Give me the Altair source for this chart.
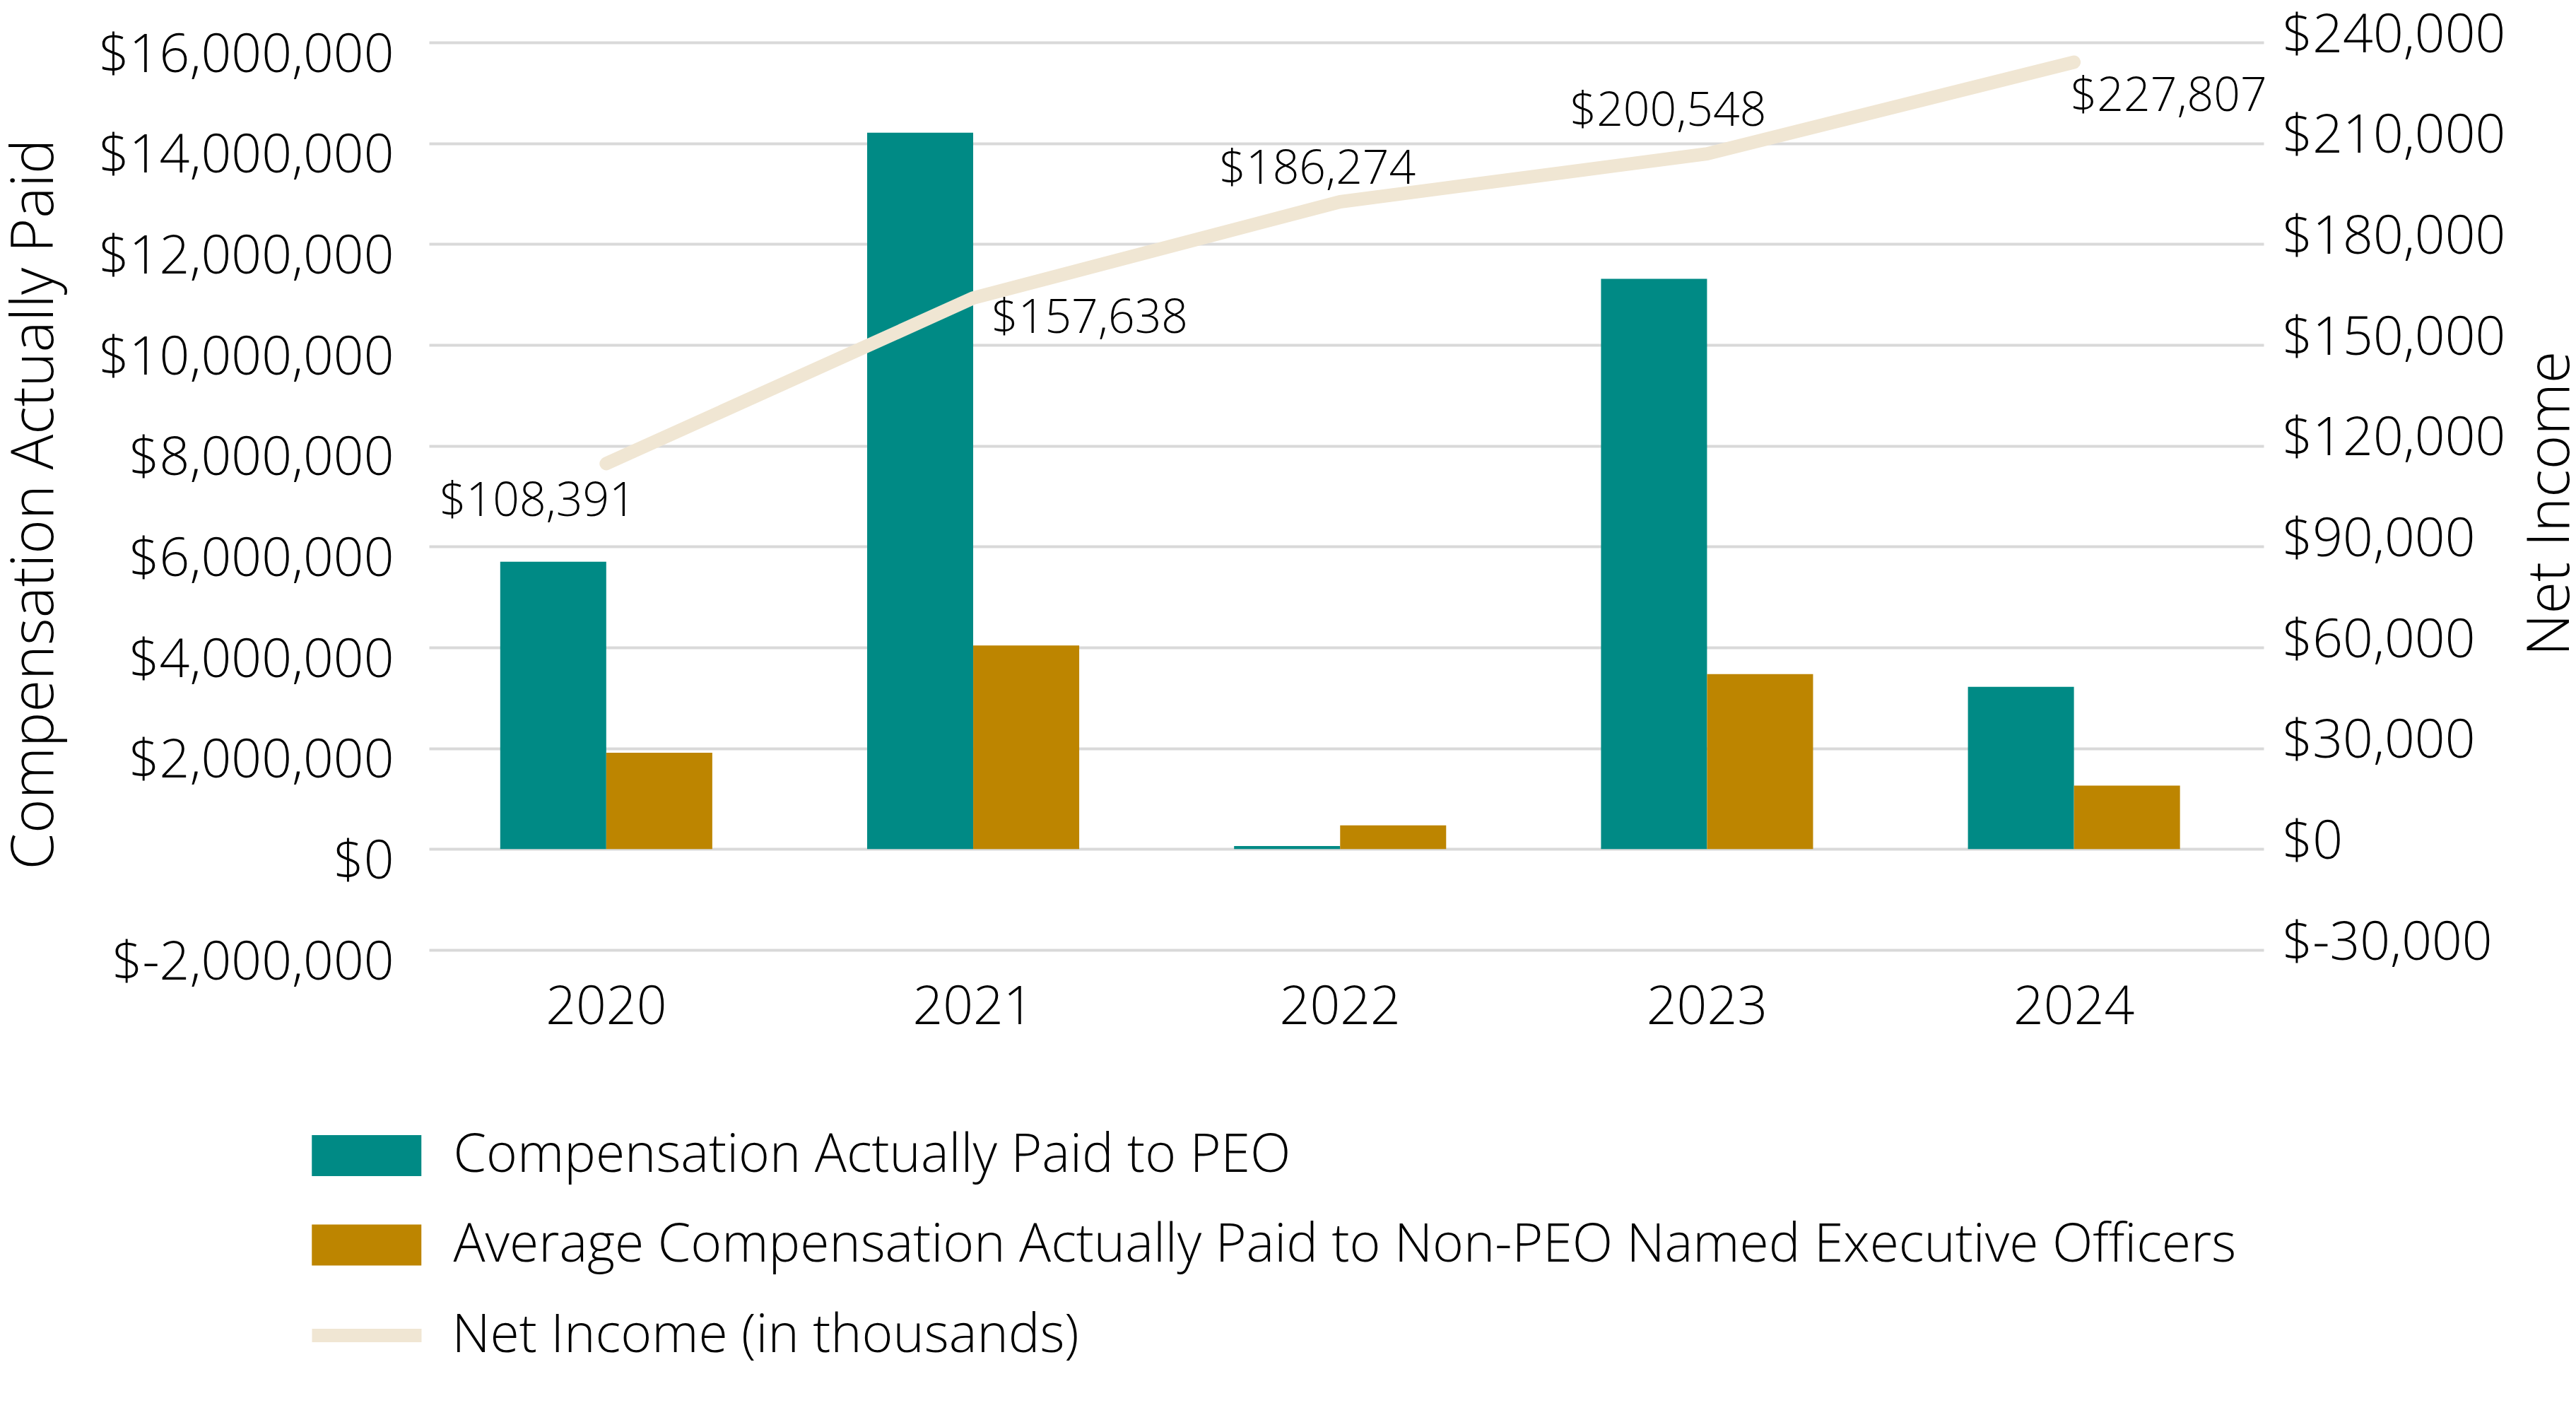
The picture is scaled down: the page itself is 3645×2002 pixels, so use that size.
import altair as alt
import pandas as pd

years = ["2020", "2021", "2022", "2023", "2024"]
peo = [5700000, 14210000, 60000, 11310000, 3220000]
non_peo = [1910000, 4040000, 470000, 3470000, 1260000]
net_income = [108391, 157638, 186274, 200548, 227807]

s_peo = "Compensation Actually Paid to PEO"
s_non = "Average Compensation Actually Paid to Non-PEO Named Executive Officers"
s_net = "Net Income (in thousands)"

TEAL = "#008A85"
GOLD = "#BD8500"
BEIGE = "#F0E6D3"
FONT = "Open Sans"
FW = 300

bars_df = pd.DataFrame(
    [{"year": y, "series": s_peo, "value": v} for y, v in zip(years, peo)]
    + [{"year": y, "series": s_non, "value": v} for y, v in zip(years, non_peo)]
)
line_df = pd.DataFrame({"year": years, "net": net_income, "label": [s_net] * len(years)})

W, H = 2596, 1284
LINE_SHIFT = -30

money_expr = "datum.value < 0 ? '$-' + format(-datum.value, ',') : '$' + format(datum.value, ',')"

x_enc = alt.X(
    "year:N",
    sort=years,
    scale=alt.Scale(paddingInner=0.422, paddingOuter=0.211, align=0.46),
    axis=alt.Axis(
        title=None, labelAngle=0, labelFontSize=75, labelPadding=45,
        labelBaseline="top", domain=False, ticks=False, labelColor="#000000",
        labelFont=FONT, labelFontWeight=FW,
    ),
)

bars = alt.Chart(bars_df).mark_bar(size=150).encode(
    x=x_enc,
    xOffset=alt.XOffset("series:N", sort=[s_peo, s_non]),
    y=alt.Y(
        "value:Q",
        scale=alt.Scale(domain=[-2000000, 16000000], nice=False, zero=False),
        axis=alt.Axis(
            orient="left",
            values=list(range(-2000000, 16000001, 2000000)),
            labelExpr=money_expr,
            labelFontSize=75, labelPadding=50, labelOffset=18, labelColor="#000000",
            labelFont=FONT, labelFontWeight=FW, labelLimit=2000,
            grid=True, gridColor="#D9D9D9", gridWidth=4,
            domain=False, ticks=False,
            title="Compensation Actually Paid", titleFontSize=83, titleFontWeight=FW,
            titleFont=FONT, titleColor="#000000", titleLimit=3000,
            titleAngle=270, titleAlign="center", titleBaseline="alphabetic",
            titleX=-533, titleY=653,
        ),
    ),
    color=alt.Color(
        "series:N",
        scale=alt.Scale(domain=[s_peo, s_non], range=[TEAL, GOLD]),
        legend=alt.Legend(
            orient="none", legendX=-127.25, legendY=1536, title=None,
            direction="vertical",
            symbolType="M-2,-0.75H2V0.75H-2Z", symbolSize=6006,
            symbolStrokeWidth=0, symbolOpacity=1,
            labelFontSize=75, labelFont=FONT, labelFontWeight=FW, labelColor="#000000",
            labelOffset=83.75, rowPadding=49.5, padding=0, labelLimit=3000,
        ),
    ),
)

y_right = alt.Y(
    "net:Q",
    scale=alt.Scale(domain=[-30000, 240000], nice=False, zero=False),
    axis=alt.Axis(
        orient="right",
        values=list(range(-30000, 240001, 30000)),
        labelExpr=money_expr,
        labelFontSize=75, labelPadding=26, labelOffset=-10, labelColor="#000000",
        labelFont=FONT, labelFontWeight=FW, labelLimit=2000,
        grid=False, domain=False, ticks=False,
        title="Net Income", titleFontSize=83, titleFontWeight=FW,
        titleFont=FONT, titleColor="#000000", titleLimit=3000,
        titleAngle=270, titleAlign="center", titleBaseline="alphabetic",
        titleX=431, titleY=652,
    ),
)

line = alt.Chart(line_df).mark_line(
    strokeWidth=19, strokeCap="round", strokeJoin="round", yOffset=LINE_SHIFT
).encode(
    x=alt.X("year:N", sort=years),
    y=y_right,
    stroke=alt.Stroke(
        "label:N",
        scale=alt.Scale(domain=[s_net], range=[BEIGE]),
        legend=alt.Legend(
            orient="none", legendX=-136.5, legendY=1781, title=None,
            symbolType="M-2,0H2", symbolSize=6006, symbolStrokeWidth=19,
            labelFontSize=75, labelFont=FONT, labelFontWeight=FW, labelColor="#000000",
            labelOffset=72, padding=0, labelLimit=3000,
        ),
    ),
)

# label offsets (from the line vertex) for each year
label_offsets = {
    "2020": (-97, 54),
    "2021": (165, 29),
    "2022": (-32, -45),
    "2023": (-55, -60),
    "2024": (134, 49),
}

texts = []
for yr in years:
    dx, dy = label_offsets[yr]
    t = alt.Chart(line_df).transform_filter(
        alt.datum.year == yr
    ).mark_text(
        fontSize=66, font=FONT, fontWeight=FW, color="#000000", align="center",
        baseline="middle", dx=dx, dy=dy, yOffset=LINE_SHIFT,
    ).encode(
        x=alt.X("year:N", sort=years),
        y=y_right,
        text=alt.Text("net:Q", format="$,.0f"),
    )
    texts.append(t)

right_layer = alt.layer(line, *texts)

chart = alt.layer(bars, right_layer).resolve_scale(
    y="independent"
).properties(
    width=W, height=H,
    autosize=alt.AutoSizeParams(type="none"),
    padding={"left": 599, "top": 52, "right": 434, "bottom": 650},
).configure(
    font=FONT, background="white", view=alt.ViewConfig(stroke=None)
)

chart.save("out.html", embed_options={"renderer": "svg", "actions": False})
